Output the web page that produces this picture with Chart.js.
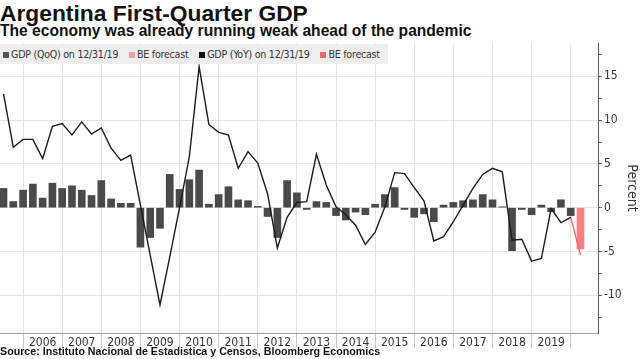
<!DOCTYPE html>
<html>
<head>
<meta charset="utf-8">
<script src="https://cdn.jsdelivr.net/npm/chart.js@4.4.1/dist/chart.umd.min.js"></script>
<style>
    body { margin: 0; width: 640px; height: 359px; position: relative; overflow: hidden; background: #fff;
           font-family: "Liberation Sans", Arial, sans-serif; }
    #title { position: absolute; left: 0; top: 0; font-size: 22.8px; font-weight: bold; color: #111; white-space: nowrap; }
    #subtitle { position: absolute; left: 0; top: 22px; font-size: 15.6px; font-weight: bold; color: #111; white-space: nowrap; }
    #legend { position: absolute; left: 0; top: 44px; width: 388px; height: 20px; background: #eeeeee;
              font-family: "Liberation Sans Narrow", "DejaVu Sans Condensed", sans-serif; font-size: 10.6px; color: #333;
              letter-spacing: -0.25px; line-height: 20px; white-space: nowrap; z-index: 2; }
    #legend span.box { display: inline-block; width: 6px; height: 6px; margin: 0 2px 0 3px; vertical-align: 0px; }
    #legend span.item { margin-right: 5px; }
    #source { position: absolute; left: 0; top: 345px; font-size: 10.7px; font-weight: bold; color: #111; white-space: nowrap; }
    #wrap { position: absolute; left: 0; top: 0; width: 640px; height: 359px; }
</style>
</head>
<body>
<div id="title">Argentina First-Quarter GDP</div>
<div id="subtitle">The economy was already running weak ahead of the pandemic</div>
<div id="legend">
    <span class="box" style="background:#555555"></span><span class="item">GDP (QoQ) on 12/31/19</span>
    <span class="box" style="background:#f7a0a0"></span><span class="item">BE forecast</span>
    <span class="box" style="background:#111111"></span><span class="item">GDP (YoY) on 12/31/19</span>
    <span class="box" style="background:#f06a6a"></span><span class="item">BE forecast</span>
</div>
<div id="wrap"><canvas id="gdpChart"></canvas></div>
<div id="source">Source: Instituto Nacional de Estadistica y Censos, Bloomberg Economics</div>

<script>
// quarters run from 2005 Q2 (index 0) to 2019 Q4 (index 58), forecast is 2020 Q1
const years = ['2006', '2007', '2008', '2009', '2010', '2011', '2012', '2013', '2014', '2015', '2016', '2017', '2018', '2019'];
const firstQuarter = '2005 Q2';

// GDP quarter on quarter, percent
const qoqValues = [
    2.2, 0.7, 2.0, 2.7, 1.1, 2.8, 2.2, 2.5, 2.0, 1.4,
    3.1, 1.0, 0.5, 0.5, -4.5, -3.4, -2.35, 3.8, 2.1, 3.2,
    4.3, 0.4, 1.5, 2.4, 0.9, 0.8, 0.15, -1.0, -3.4, 3.1,
    1.7, -0.2, 0.7, 0.6, -0.9, -1.4, -0.5, -0.8, 0.4, 1.5,
    2.3, -0.2, -1.1, -0.7, -1.6, 0.3, 0.6, 0.8, 0.9, 1.5,
    0.9, 0.1, -4.9, -0.2, -0.8, 0.3, -0.45, 0.9, -0.9
];

// GDP year on year, percent
const yoyValues = [
    13.0, 6.9, 7.8, 7.8, 5.6, 9.3, 9.6, 8.3, 9.8, 8.4,
    9.1, 6.8, 5.4, 6.0, 0.3, -5.4, -11.1, -5.6, 0.0, 5.8,
    16.1, 9.5, 8.6, 8.3, 4.5, 6.4, 5.1, 1.6, -4.6, -1.1,
    0.6, 0.7, 6.1, 2.6, 0.1, -0.8, -2.0, -4.2, -2.8, 0.1,
    4.0, 3.9, 2.3, 0.75, -3.8, -3.3, -1.6, 0.3, 2.2, 3.8,
    4.5, 4.1, -3.7, -3.6, -6.1, -5.8, -0.1, -1.7, -1.1
];

// BE forecast for 2020 Q1
const qoqForecast = [-4.7];
const yoyForecast = [-5.4];

// y axis ticks
const yTicks = [-12.5, -10, -7.5, -5, -2.5, 0, 2.5, 5, 7.5, 10, 12.5, 15, 17.5];

const lastIdx = qoqValues.length - 1;

// x ticks: year boundaries (Q4) and year label positions (Q2)
const xTicks = [];
years.forEach((y, k) => {
    xTicks.push({ value: 4 * k + 2, boundary: true });
    xTicks.push({ value: 4 * k + 4, boundary: false, label: y });
});
xTicks.push({ value: 4 * years.length + 2, boundary: true });

function isBoundary(v) { return xTicks.some(t => t.value === v && t.boundary); }
function yearLabel(v) {
    const t = xTicks.find(t => t.value === v && !t.boundary);
    return t ? t.label : '';
}

const narrowFont = '"Liberation Sans Narrow", "DejaVu Sans Condensed", sans-serif';

const ctx = document.getElementById('gdpChart').getContext('2d');
new Chart(ctx, {
    data: {
        datasets: [
            {
                type: 'line',
                label: 'GDP (YoY) on 12/31/19',
                data: yoyValues.map((v, i) => ({ x: i, y: v })),
                borderColor: '#1a1a1a',
                borderWidth: 1.4,
                pointRadius: 0,
                tension: 0,
                order: 0
            },
            {
                type: 'line',
                label: 'BE forecast',
                data: [{ x: lastIdx, y: yoyValues[lastIdx] }, { x: lastIdx + 1, y: yoyForecast[0] }],
                borderColor: '#f06a6a',
                borderWidth: 1.4,
                pointRadius: 0,
                order: 0
            },
            {
                type: 'bar',
                label: 'GDP (QoQ) on 12/31/19',
                data: qoqValues.map((v, i) => ({ x: i, y: v })),
                backgroundColor: '#4a4a4a',
                barThickness: 7,
                grouped: false,
                order: 1
            },
            {
                type: 'bar',
                label: 'BE forecast',
                data: [{ x: lastIdx + 1, y: qoqForecast[0] }],
                backgroundColor: '#f78080',
                barThickness: 7,
                grouped: false,
                order: 1
            }
        ]
    },
    options: {
        responsive: true,
        maintainAspectRatio: false,
        animation: false,
        layout: { padding: { top: 43, bottom: 11, left: 0, right: 0 } },
        plugins: { legend: { display: false }, tooltip: { enabled: false } },
        scales: {
            x: {
                type: 'linear',
                min: -0.36,
                max: 60.79,
                offset: false,
                afterBuildTicks: s => { s.ticks = xTicks.map(t => ({ value: t.value })); },
                afterFit: s => { s.height = 15; },
                grid: {
                    offset: false,
                    color: c => (c.tick && isBoundary(c.tick.value)) ? '#e4e4e4' : 'rgba(0,0,0,0)',
                    tickColor: c => (c.tick && isBoundary(c.tick.value)) ? '#c8c8c8' : 'rgba(0,0,0,0)',
                    tickLength: 15
                },
                border: { display: true, color: '#9a9a9a' },
                ticks: {
                    autoSkip: false,
                    maxRotation: 0,
                    padding: -12,
                    color: '#333',
                    font: { family: narrowFont, size: 12 },
                    callback: v => yearLabel(v)
                }
            },
            y: {
                position: 'right',
                min: -14.3,
                max: 18.8,
                afterBuildTicks: s => { s.ticks = yTicks.map(v => ({ value: v })); },
                afterFit: s => { s.width = 42; },
                grid: {
                    color: c => (c.tick && c.tick.value % 5 === 0) ? '#e4e4e4' : 'rgba(0,0,0,0)',
                    tickColor: '#666',
                    tickLength: 4
                },
                border: { display: true, color: '#555' },
                ticks: {
                    padding: 2,
                    color: '#333',
                    font: { family: narrowFont, size: 12 },
                    callback: v => (v % 5 === 0 ? String(v) : '')
                },
                title: {
                    display: true,
                    text: 'Percent',
                    color: '#333',
                    font: { family: narrowFont, size: 14 },
                    padding: 0
                }
            }
        }
    }
});
</script>
</body>
</html>
